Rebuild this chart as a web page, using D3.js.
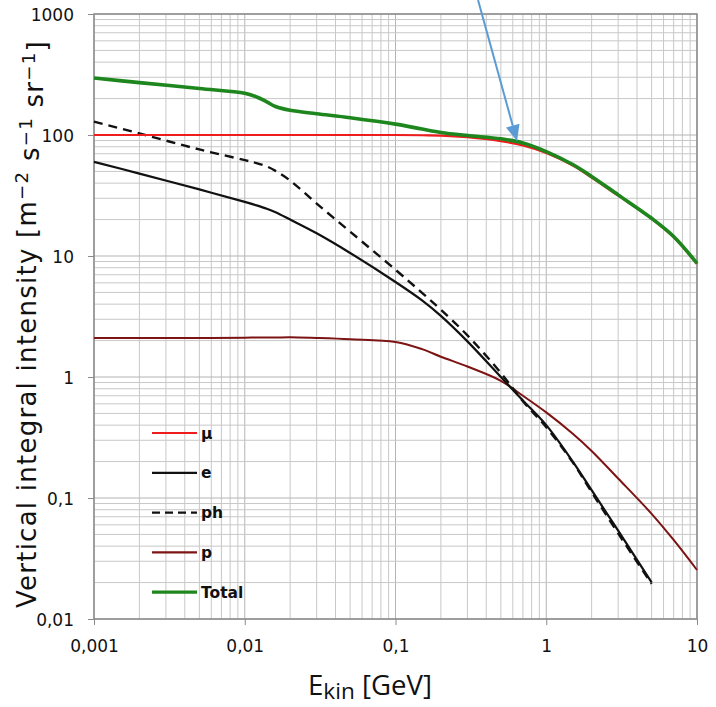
<!DOCTYPE html>
<html>
<head>
<meta charset="utf-8">
<script src="https://cdn.jsdelivr.net/npm/d3@7"></script>
<style>
    body { margin: 0; background: #fff; }
    svg { display: block; }
    text { font-family: "DejaVu Sans", sans-serif; fill: #111; }
</style>
</head>
<body>
<div id="chart"></div>
<script>
// kinetic energy [GeV]
const energies = [0.001, 0.002, 0.005, 0.01, 0.012, 0.014, 0.016, 0.02, 0.03, 0.05, 0.1,
    0.15, 0.2, 0.3, 0.5, 0.7, 1, 1.5, 2, 3, 5, 7, 10];

// vertical integral intensity [m-2 s-1 sr-1]
const muon = [100, 100, 100, 100, 100, 100, 100, 100, 100, 100, 100,
    99.5, 99, 96, 89, 82, 71, 56, 44.5, 31.5, 20.3, 14.3, 8.6];
const electron = [60, 48, 35.5, 28, 26.2, 24.6, 23, 20, 15.4, 10.6, 6.1,
    4.3, 3.2, 1.97, 1.0, 0.64, 0.40, 0.20, 0.116, 0.0537, 0.0201, null, null];
const photon = [129, 103, 76, 62, 58.5, 55, 50.5, 42, 27.1, 15.9, 7.7,
    4.96, 3.6, 2.21, 1.08, 0.63, 0.385, 0.197, 0.112, 0.051, 0.0195, null, null];
const proton = [2.1, 2.1, 2.1, 2.11, 2.12, 2.12, 2.12, 2.13, 2.1, 2.05, 1.95,
    1.70, 1.47, 1.22, 0.93, 0.70, 0.51, 0.34, 0.245, 0.145, 0.074, 0.045, 0.0254];
const total = [296, 271, 242, 221, 206, 188, 172, 160, 150, 139, 123,
    112, 105, 99, 93, 86, 73, 57, 45.5, 32, 20.5, 14.5, 8.7];

const xTickValues = [0.001, 0.01, 0.1, 1, 10];
const xTickLabels = ["0,001", "0,01", "0,1", "1", "10"];
const yTickValues = [0.01, 0.1, 1, 10, 100, 1000];
const yTickLabels = ["0,01", "0,1", "1", "10", "100", "1000"];

// drawing order: last one ends up on top
const series = [
    {key: "p", values: proton, color: "#7d1414", width: 2, dash: null},
    {key: "ph", values: photon, color: "#111", width: 2.4, dash: "9,6"},
    {key: "e", values: electron, color: "#111", width: 2.2, dash: null},
    {key: "μ", values: muon, color: "#ee1c1c", width: 2.2, dash: null},
    {key: "Total", values: total, color: "#1d861d", width: 3.6, dash: null}
];
const legendOrder = ["μ", "e", "ph", "p", "Total"];

const width = 716, height = 707;
const margin = {top: 14, right: 19, bottom: 88, left: 94};

const svg = d3.select("#chart").append("svg")
    .attr("width", width)
    .attr("height", height);

const x = d3.scaleLog()
    .domain([0.001, 10])
    .range([margin.left, width - margin.right]);

const y = d3.scaleLog()
    .domain([0.01, 1000])
    .range([height - margin.bottom, margin.top]);

const isDecade = d => Math.abs(Math.log10(d) - Math.round(Math.log10(d))) < 1e-6;

// grid, minor and major
const grid = svg.append("g").attr("class", "grid");
grid.selectAll("line.vx")
    .data(x.ticks())
    .enter().append("line")
    .attr("x1", d => x(d)).attr("x2", d => x(d))
    .attr("y1", y.range()[0]).attr("y2", y.range()[1])
    .attr("stroke", d => isDecade(d) ? "#b4b4b4" : "#c8c8c8")
    .attr("stroke-width", 1);
grid.selectAll("line.hy")
    .data(y.ticks())
    .enter().append("line")
    .attr("y1", d => y(d)).attr("y2", d => y(d))
    .attr("x1", x.range()[0]).attr("x2", x.range()[1])
    .attr("stroke", d => isDecade(d) ? "#b4b4b4" : "#c8c8c8")
    .attr("stroke-width", 1);

// axes
const xAxis = d3.axisBottom(x)
    .tickValues(xTickValues)
    .tickFormat((d, i) => xTickLabels[i])
    .tickSize(6)
    .tickPadding(15);
const yAxis = d3.axisLeft(y)
    .tickValues(yTickValues)
    .tickFormat((d, i) => yTickLabels[i])
    .tickSize(6)
    .tickPadding(14);

const gx = svg.append("g")
    .attr("transform", `translate(0, ${y.range()[0]})`)
    .call(xAxis);
const gy = svg.append("g")
    .attr("transform", `translate(${x.range()[0]}, 0)`)
    .call(yAxis);

[gx, gy].forEach(g => {
    g.select(".domain").remove();
    g.selectAll(".tick line").attr("stroke", "#8a8a8a");
    g.selectAll(".tick text")
        .attr("font-size", 17)
        .attr("fill", "#111")
        .style("font-family", "'DejaVu Sans', sans-serif");
});
gy.selectAll(".tick text").attr("dy", "0.36em");

// plot frame
svg.append("rect")
    .attr("x", x.range()[0])
    .attr("y", y.range()[1])
    .attr("width", x.range()[1] - x.range()[0])
    .attr("height", y.range()[0] - y.range()[1])
    .attr("fill", "none")
    .attr("stroke", "#8a8a8a")
    .attr("stroke-width", 1.5);

// curves
const line = d3.line()
    .defined(d => d[1] != null)
    .x(d => x(d[0]))
    .y(d => y(d[1]))
    .curve(d3.curveCatmullRom.alpha(0.5));

svg.append("g").attr("class", "curves")
    .selectAll("path")
    .data(series)
    .enter().append("path")
    .attr("d", s => line(energies.map((e, i) => [e, s.values[i]])))
    .attr("fill", "none")
    .attr("stroke", s => s.color)
    .attr("stroke-width", s => s.width)
    .attr("stroke-dasharray", s => s.dash)
    .attr("stroke-linejoin", "round");

// legend
const legend = svg.append("g")
    .attr("transform", "translate(152, 433)");
const legendItems = legend.selectAll("g")
    .data(legendOrder.map(k => series.find(s => s.key === k)))
    .enter().append("g")
    .attr("transform", (d, i) => `translate(0, ${i * 39.8})`);
legendItems.append("line")
    .attr("x1", 0).attr("x2", 45)
    .attr("stroke", d => d.color)
    .attr("stroke-width", d => d.key === "Total" ? 3.2 : 2.2)
    .attr("stroke-dasharray", d => d.dash ? "8,5" : null);
legendItems.append("text")
    .attr("x", 49)
    .attr("dy", "0.36em")
    .attr("font-size", 15.5)
    .attr("font-weight", "bold")
    .text(d => d.key);

// axis titles
const xTitle = svg.append("text")
    .attr("x", 370)
    .attr("y", height - 12)
    .attr("text-anchor", "middle")
    .style("font-family", "'Open Sans', sans-serif")
    .attr("font-size", 26)
    .html('E<tspan font-size="0.82em" dy="4">kin</tspan><tspan dy="-4"> [GeV]</tspan>');
const xw = xTitle.node().getComputedTextLength();
xTitle.attr("font-size", 26 * 124 / xw);

const yTitle = svg.append("text")
    .attr("transform", `translate(36, 324) rotate(-90)`)
    .attr("text-anchor", "middle")
    .attr("font-size", 26)
    .html('Vertical integral intensity [m<tspan font-size="0.7em" dy="-0.42em">\u22122</tspan>' +
        '<tspan dy="0.42em"> s</tspan><tspan font-size="0.7em" dy="-0.42em">\u22121</tspan>' +
        '<tspan dy="0.42em"> sr</tspan><tspan font-size="0.7em" dy="-0.42em">\u22121</tspan><tspan dy="0.42em">]</tspan>');
// a little letter spacing so the title spans about the same height as the original
const yw = yTitle.node().getComputedTextLength();
const nChars = yTitle.text().length;
if (yw < 568) yTitle.attr("letter-spacing", Math.min(1.5, (568 - yw) / nChars));

// annotation arrow pointing at the total curve
const tipX = x(0.64), tipY = y(89);
const startX = tipX - 39, startY = 0;
const len = Math.hypot(tipX - startX, tipY - startY);
const ux = (tipX - startX) / len, uy = (tipY - startY) / len;
const headLen = 16, headHalf = 7;
const baseX = tipX - ux * headLen, baseY = tipY - uy * headLen;

const arrow = svg.append("g").attr("class", "arrow");
arrow.append("line")
    .attr("x1", startX).attr("y1", startY)
    .attr("x2", baseX).attr("y2", baseY)
    .attr("stroke", "#5b9bd5")
    .attr("stroke-width", 2);
arrow.append("path")
    .attr("d", `M${tipX},${tipY}L${baseX - uy * headHalf},${baseY + ux * headHalf}` +
        `L${baseX + uy * headHalf},${baseY - ux * headHalf}Z`)
    .attr("fill", "#5b9bd5");
</script>
</body>
</html>
